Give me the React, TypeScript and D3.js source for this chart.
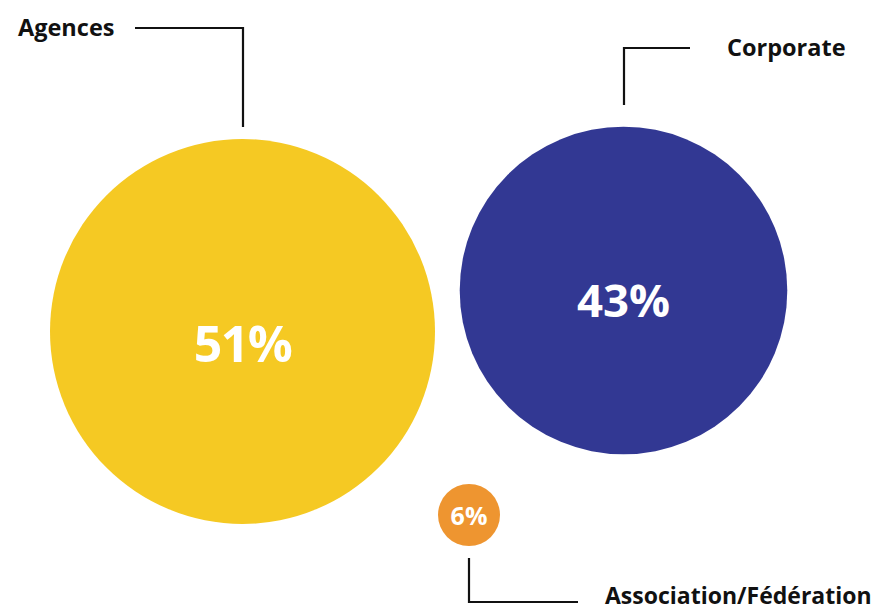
import { scaleLinear } from 'd3'

// share of respondents by organisation type
const CATEGORIES = ['Agences', 'Corporate', 'Association/Fédération']
const VALUES = [51, 43, 6]
const COLORS = ['#F5C923', '#323893', '#EE9530']

const W = 877
const H = 611

// bubble placement (hand laid out, like the original)
const CENTERS: [number, number][] = [
  [242.5, 331.5],
  [623.5, 290.5],
  [469, 515],
]

// leader polyline + label anchor for each bubble
const LEADERS = [
  { pts: [[243, 127], [243, 28], [135, 28]], tx: 18, ty: 36, size: 23.5 },
  { pts: [[624, 105], [624, 48], [690, 48]], tx: 727, ty: 56, size: 23.5 },
  { pts: [[469, 558], [469, 602], [578, 602]], tx: 605, ty: 604, size: 23 },
]

const FONT = '"Open Sans", "DejaVu Sans", sans-serif'

export default function App() {
  const r = scaleLinear().domain([6, 51]).range([31, 192.5])
  const fs = scaleLinear().domain([6, 51]).range([25, 50])
  const dy = scaleLinear().domain([6, 51]).range([10, 30])

  return (
    <svg
      width={W}
      height={H}
      viewBox={`0 0 ${W} ${H}`}
      style={{ position: 'absolute', left: 0, top: 0, background: '#fff' }}
    >
      {VALUES.map((v, i) => {
        const [cx, cy] = CENTERS[i]
        return (
          <g key={CATEGORIES[i]}>
            <circle cx={cx} cy={cy} r={r(v)} fill={COLORS[i]} />
            <text
              x={cx}
              y={cy + dy(v)}
              textAnchor="middle"
              fontFamily={FONT}
              fontWeight={700}
              fontSize={fs(v)}
              letterSpacing={v === 51 ? -1.5 : 0}
              fill="#fff"
            >
              {v}%
            </text>
          </g>
        )
      })}

      {LEADERS.map((l, i) => (
        <g key={i}>
          <polyline
            points={l.pts.map((p) => p.join(',')).join(' ')}
            fill="none"
            stroke="#111"
            strokeWidth={2.2}
          />
          <text
            x={l.tx}
            y={l.ty}
            fontFamily={FONT}
            fontWeight={700}
            fontSize={l.size}
            fill="#111"
          >
            {CATEGORIES[i]}
          </text>
        </g>
      ))}
    </svg>
  )
}
